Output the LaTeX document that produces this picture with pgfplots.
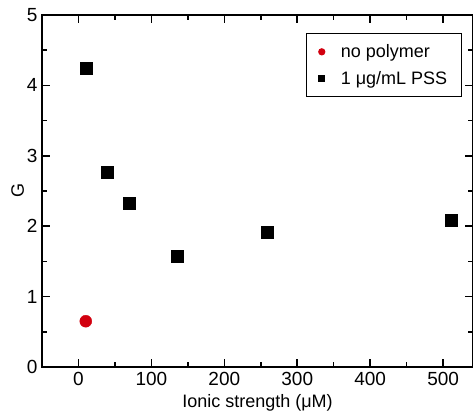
\documentclass[border=0pt]{standalone}
\usepackage{pgfplots}
\pgfplotsset{compat=1.18}
\usepackage{fontspec}
\setmainfont{Liberation Sans}
\definecolor{myred}{RGB}{210,0,15}
\begin{document}
\begin{tikzpicture}
\begin{axis}[
  name=ax,
  scale only axis,
  width=431pt, height=352pt,
  xmin=-50, xmax=541, ymin=0, ymax=5,
  xtick={0,100,200,300,400,500},
  minor xtick={50,150,250,350,450},
  ytick={0,1,2,3,4,5},
  minor ytick={0.5,1.5,2.5,3.5,4.5},
  tick align=inside,
  axis line style={line width=1.5pt},
  major tick length=8pt,
  minor tick length=5pt,
  tick style={line width=1.5pt, black},
  tick label style={font=\fontsize{19}{22}\selectfont},
  /pgf/number format/assume math mode=true,
  xticklabel style={yshift=-2pt},
  yticklabel style={xshift=-1pt},
  xlabel={Ionic strength (μM)},
  ylabel={G},
  label style={font=\fontsize{18}{21}\selectfont},
  xlabel style={yshift=-2pt},
  ylabel style={yshift=-4pt},
  legend style={at={(0.974,0.949)}, anchor=north east, draw=black, line width=1.2pt,
    font=\fontsize{18}{21}\selectfont, inner xsep=12pt, inner ysep=9pt,
    row sep=8pt, /tikz/every odd column/.append style={column sep=14pt}},
  legend cell align=left,
]
\addplot[only marks, mark=*, mark size=6pt, color=myred, mark options={draw=myred, fill=myred},
  legend image post style={mark size=3pt}]
  coordinates {(10,0.65)};
\addlegendentry{no polymer}
\addplot[only marks, mark=square*, mark size=6pt, color=black,
  legend image post style={mark size=3pt}]
  coordinates {(10,4.25) (40,2.77) (70,2.33) (135,1.58) (259,1.92) (511,2.08)};
\addlegendentry{1 μg/mL PSS}
\end{axis}
\pgfresetboundingbox
\path ([xshift=-42pt,yshift=-53pt]ax.south west) rectangle ([yshift=15pt]ax.north east);
\end{tikzpicture}
\end{document}
